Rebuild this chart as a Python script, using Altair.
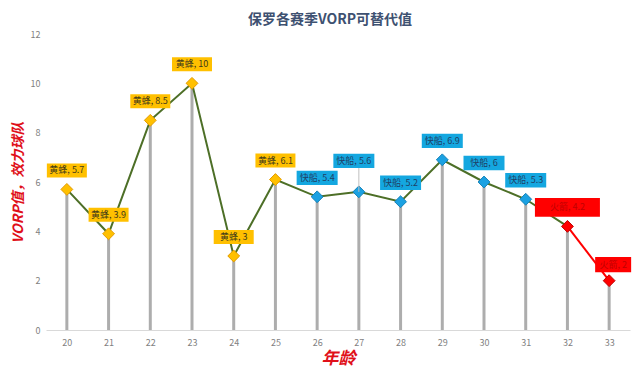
import altair as alt
import pandas as pd

ages = list(range(20, 34))
vorp = [5.7, 3.9, 8.5, 10, 3, 6.1, 5.4, 5.6, 5.2, 6.9, 6, 5.3, 4.2, 2]
teams = ["黄蜂"] * 6 + ["快船"] * 6 + ["火箭"] * 2
y_ticks = [0, 2, 4, 6, 8, 10, 12]

df = pd.DataFrame({"age": ages, "vorp": vorp, "team": teams})

FONT = "Noto Sans CJK SC"

base = alt.Chart(df).transform_calculate(label="datum.team + ', ' + datum.vorp")

X = alt.X(
    "age:Q",
    scale=alt.Scale(domain=[19.5, 33.5], nice=False, zero=False),
    axis=alt.Axis(
        values=ages, format="d", title="年龄", grid=False, ticks=False,
        domainColor="#d9d9d9", domainWidth=1, labelColor="#7f7f7f", labelFontSize=9,
        labelPadding=8, labelFont=FONT,
        titleFont=FONT, titleFontSize=17, titleFontWeight="bold", titleFontStyle="italic",
        titleColor="#e0101a", titleY=28, titleBaseline="middle",
    ),
)
Y = alt.Y(
    "vorp:Q",
    scale=alt.Scale(domain=[0, 12], nice=False),
    axis=alt.Axis(
        values=y_ticks, title="VORP值，效力球队", grid=False, ticks=False, domain=False,
        labelColor="#7f7f7f", labelFontSize=9, labelPadding=6, labelFont=FONT,
        titleFont=FONT, titleFontSize=14, titleFontWeight="bold", titleFontStyle="italic",
        titleColor="#e0101a", titleX=-28, titleY=148, titleBaseline="middle", titleAlign="center",
    ),
)

drop = base.mark_rule(color="#adadad", strokeWidth=3).encode(x=X, y=Y, y2=alt.datum(0))
line_green = base.transform_filter("datum.age <= 32").mark_line(
    color="#4d6f27", strokeWidth=2).encode(x=X, y=Y)
line_red = base.transform_filter("datum.age >= 32").mark_line(
    color="#ff0000", strokeWidth=2).encode(x=X, y=Y)

styles = {
    "黄蜂": dict(box="#ffc000", text="#3f3a1a", fill="#ffc000", stroke="#e39b00"),
    "快船": dict(box="#14a7e0", text="#1f3f66", fill="#1ba1e2", stroke="#1682b8"),
    "火箭": dict(box="#ff0000", text="#c00000", fill="#ff0000", stroke="#c00000"),
}

BOX = "M-1,-0.35L1,-0.35L1,0.35L-1,0.35Z"
BOX_WIDE = "M-1,-0.29L1,-0.29L1,0.29L-1,0.29Z"
BOX_SMALL = "M-1,-0.42L1,-0.42L1,0.42L-1,0.42Z"

layers = [drop, line_green, line_red]

for team, st in styles.items():
    sub = base.transform_filter(alt.datum.team == team)
    layers.append(sub.mark_point(shape="diamond", filled=True, size=140, opacity=1,
                                 color=st["fill"], stroke=st["stroke"], strokeWidth=1)
                  .encode(x=X, y=Y))

# label boxes & texts
def label_layer(flt, shape, size, dy, dx, st):
    sub = base.transform_filter(flt)
    box = sub.mark_point(shape=shape, size=size, filled=True, opacity=1, color=st["box"],
                         yOffset=dy, xOffset=dx).encode(x=X, y=Y)
    txt = sub.mark_text(font=FONT, fontSize=9, color=st["text"], dy=dy, dx=dx,
                        baseline="middle").encode(x=X, y=Y, text="label:N")
    return [box, txt]

layers += label_layer("datum.team == '黄蜂'", BOX, 1600, -19, 0, styles["黄蜂"])
leader = base.transform_filter("datum.age == 27").mark_rule(
    color="#bfbfbf", strokeWidth=1, y2Offset=-24).encode(x=X, y=Y, y2="vorp:Q")
layers.append(leader)
layers += label_layer("datum.team == '快船' && datum.age != 27", BOX, 1681, -19, 0, styles["快船"])
layers += label_layer("datum.age == 27", BOX, 1681, -31, -5, styles["快船"])
layers += label_layer("datum.age == 32", BOX_WIDE, 4225, -19, 0, styles["火箭"])
layers += label_layer("datum.age == 33", BOX_SMALL, 1296, -16, 4, styles["火箭"])

chart = alt.layer(*layers).properties(
    width=584,
    height=296,
    autosize=alt.AutoSizeParams(type="none"),
    padding={"left": 38, "top": 26, "right": 2, "bottom": 40},
    title=alt.TitleParams(
        "保罗各赛季VORP可替代值", font=FONT, fontSize=14, fontWeight="bold",
        color="#3e5171", anchor="middle", offset=3, dx=-8, frame="group",
    ),
).configure_view(stroke=None)

chart.save("out.html", embed_options={"renderer": "svg", "actions": False})
